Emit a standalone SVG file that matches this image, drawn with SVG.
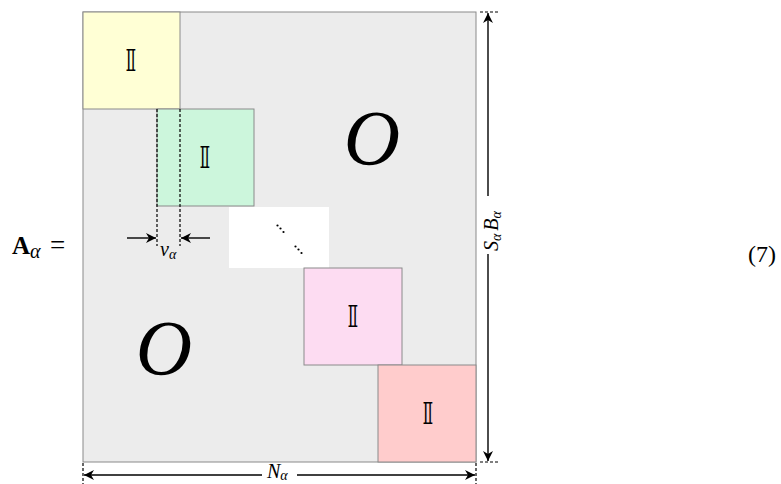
<svg xmlns="http://www.w3.org/2000/svg" width="781" height="484" viewBox="0 0 781 484">
  <defs>
    <marker id="arr" viewBox="0 0 10 10" refX="10" refY="5" markerWidth="10" markerHeight="10" markerUnits="userSpaceOnUse" orient="auto">
      <path d="M0,0 L10,5 L0,10 L3,5 Z" fill="#000"/>
    </marker>
    <style>
      .blk { stroke: #8a8a8a; stroke-width: 1; }
      .id { font-family: "DejaVu Sans", "Noto Sans", sans-serif; font-size: 30px; text-anchor: middle; fill: #000; }
      .zero { font-family: "Liberation Serif", serif; font-style: italic; font-size: 78px; text-anchor: middle; }
      .math { font-family: "Liberation Serif", serif; font-style: italic; font-size: 20px; }
      .dash { stroke: #000; stroke-width: 1.2; stroke-dasharray: 3 2; fill: none; }
      .dim { stroke: #000; stroke-width: 1.4; fill: none; }
    </style>
  </defs>
  <rect width="781" height="484" fill="#fff"/>

  <!-- equation label -->
  <g id="lhs">
    <text x="12" y="254" font-family="Liberation Serif, serif" font-size="25" font-weight="bold">A</text>
    <text x="30" y="258" class="math" font-size="18">α</text>
    <text x="50" y="254" font-family="Liberation Serif, serif" font-size="27">=</text>
  </g>
  <g id="eqnum">
    <text x="748" y="262" font-family="Liberation Serif, serif" font-size="24">(7)</text>
  </g>

  <!-- matrix body -->
  <g id="matrix">
    <rect x="83" y="12" width="393" height="450" fill="#ececec" class="blk"/>
  </g>
  <g id="zero-upper"><text x="372" y="164" class="zero">O</text></g>
  <g id="zero-lower"><text x="164" y="374" class="zero">O</text></g>

  <g id="block1">
    <rect x="83" y="12" width="97" height="97" fill="#ffffd5" class="blk"/>
    <text x="131" y="71" class="id">𝕀</text>
  </g>
  <g id="block2">
    <rect x="157" y="109" width="97" height="97" fill="#ccf6dc" class="blk"/>
    <text x="205" y="168" class="id">𝕀</text>
  </g>
  <g id="ellipsis">
    <rect x="229" y="207" width="100" height="61" fill="#fff"/>
    <circle cx="277.5" cy="225.5" r="1.1"/>
    <circle cx="280.5" cy="228.5" r="1.1"/>
    <circle cx="283.5" cy="232" r="1.1"/>
    <circle cx="295.5" cy="246.5" r="1.1"/>
    <circle cx="298.5" cy="249.5" r="1.1"/>
    <circle cx="301.5" cy="253" r="1.1"/>
  </g>
  <g id="block3">
    <rect x="304" y="268" width="98" height="97" fill="#fddcf2" class="blk"/>
    <text x="353" y="327" class="id">𝕀</text>
  </g>
  <g id="block4">
    <rect x="378" y="365" width="98" height="97" fill="#ffcccc" class="blk"/>
    <text x="428" y="424" class="id">𝕀</text>
  </g>

  <!-- dimension lines -->
  <g id="connectors">
    <!-- shift width v_alpha -->
    <line x1="157" y1="109" x2="157" y2="246" class="dash"/>
    <line x1="180" y1="109" x2="180" y2="246" class="dash"/>
    <line x1="127" y1="238" x2="156" y2="238" class="dim" marker-end="url(#arr)"/>
    <line x1="210" y1="238" x2="181" y2="238" class="dim" marker-end="url(#arr)"/>

    <!-- height S_alpha B_alpha -->
    <line x1="480" y1="12" x2="500" y2="12" class="dash"/>
    <line x1="480" y1="462" x2="500" y2="462" class="dash"/>
    <line x1="488" y1="196" x2="488" y2="13" class="dim" marker-end="url(#arr)"/>
    <line x1="488" y1="254" x2="488" y2="461" class="dim" marker-end="url(#arr)"/>

    <!-- width N_alpha -->
    <line x1="83" y1="463" x2="83" y2="484" class="dash"/>
    <line x1="476" y1="463" x2="476" y2="484" class="dash"/>
    <line x1="262" y1="475" x2="84" y2="475" class="dim" marker-end="url(#arr)"/>
    <line x1="297" y1="475" x2="475" y2="475" class="dim" marker-end="url(#arr)"/>
  </g>

  <g id="labels">
    <text x="160" y="256" class="math">v<tspan font-size="14" dy="3">α</tspan></text>
    <text x="267" y="478" class="math">N<tspan font-size="14" dy="2">α</tspan></text>
    <text transform="translate(498,251) rotate(-90)" class="math">S<tspan font-size="14" dy="3">α</tspan><tspan dy="-3" dx="3">B</tspan><tspan font-size="14" dy="3">α</tspan></text>
  </g>
</svg>
